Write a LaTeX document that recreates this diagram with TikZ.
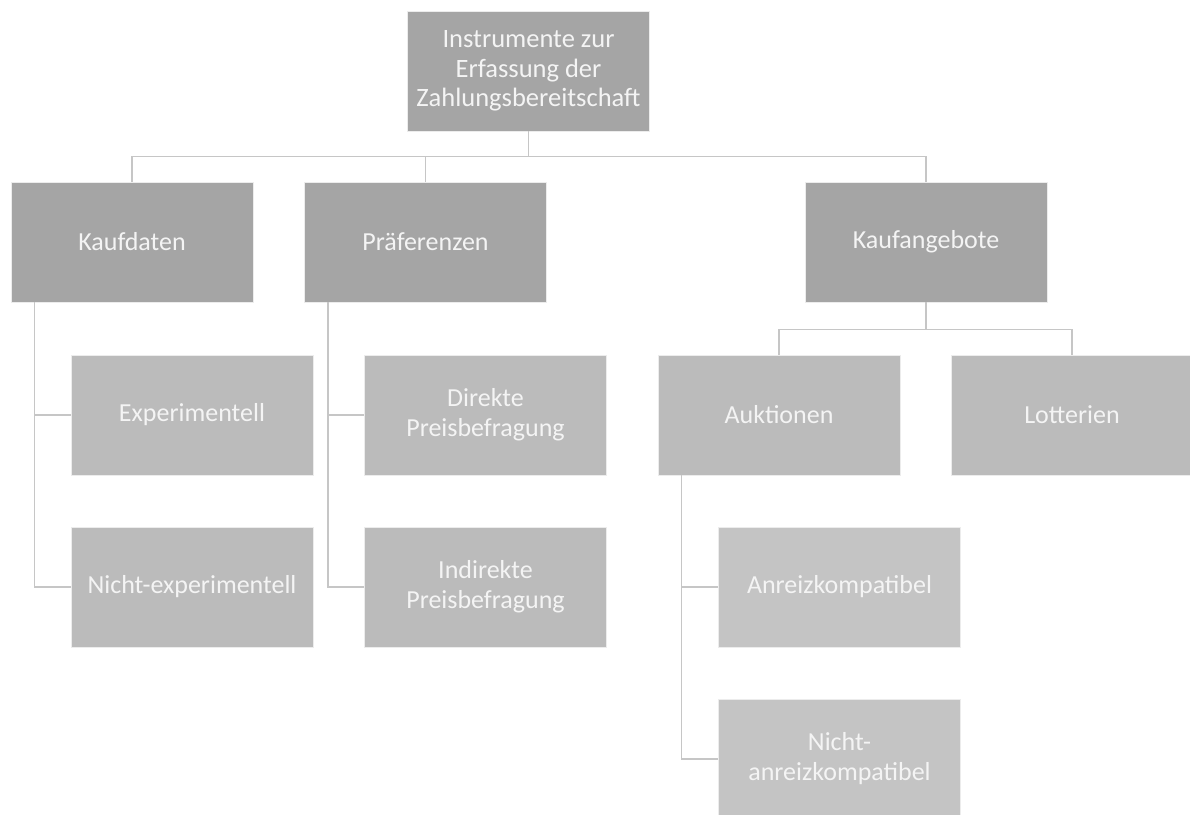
\documentclass[tikz,border=0pt]{standalone}
\usepackage{fontspec}
\setmainfont{Carlito}
\definecolor{lvla}{HTML}{A5A5A5}
\definecolor{lvlb}{HTML}{BBBBBB}
\definecolor{lvlc}{HTML}{C4C4C4}
\definecolor{linec}{HTML}{C6C6C6}
\definecolor{txtc}{HTML}{F4F4F4}
\definecolor{edgec}{HTML}{ECECEC}
\begin{document}
\begin{tikzpicture}[x=1pt,y=-1pt,
  box/.style={rectangle,minimum width=242pt,minimum height=120pt,inner sep=0pt,
    align=center,text=txtc,draw=edgec,line width=0.8pt,
    font=\fontsize{26}{30}\selectfont},
  boxa/.style={box,fill=lvla},
  boxb/.style={box,fill=lvlb},
  boxc/.style={box,fill=lvlc},
  rootbox/.style={boxa,font=\fontsize{26.5}{29.5}\selectfont},
  conn/.style={draw=linec,line width=1.5pt}]
\useasboundingbox (0,0) rectangle (1190,814);
\node[rootbox] (root) at (528.5,71) {Instrumente zur\\Erfassung der\\Zahlungsbereitschaft};
\node[boxa] (kauf) at (132,242) {Kaufdaten};
\node[boxa] (pref) at (425.5,242) {Präferenzen};
\node[boxa] (kang) at (926,242) {Kaufangebote};
\node[boxb] (exp) at (192,415) {Experimentell};
\node[boxb] (nexp) at (192,587) {Nicht-experimentell};
\node[boxb] (dir) at (485.5,415) {Direkte\\Preisbefragung};
\node[boxb] (ind) at (485.5,587) {Indirekte\\Preisbefragung};
\node[boxb] (auk) at (779,415) {Auktionen};
\node[boxb] (lot) at (1072,415) {Lotterien};
\node[boxc] (anr) at (839.5,587) {Anreizkompatibel};
\node[boxc] (nanr) at (839.5,759) {Nicht-\\anreizkompatibel};
\draw[conn] (root.south) -- ++(0,25) -| (kauf.north);
\draw[conn] (root.south) -- ++(0,25) -| (pref.north);
\draw[conn] (root.south) -- ++(0,25) -| (kang.north);
\draw[conn] (kang.south) -- ++(0,27) -| (auk.north);
\draw[conn] (kang.south) -- ++(0,27) -| (lot.north);
\draw[conn] ([xshift=24pt]kauf.south west) |- (exp.west);
\draw[conn] ([xshift=24pt]kauf.south west) |- (nexp.west);
\draw[conn] ([xshift=24pt]pref.south west) |- (dir.west);
\draw[conn] ([xshift=24pt]pref.south west) |- (ind.west);
\draw[conn] ([xshift=24pt]auk.south west) |- (anr.west);
\draw[conn] ([xshift=24pt]auk.south west) |- (nanr.west);
\end{tikzpicture}
\end{document}
